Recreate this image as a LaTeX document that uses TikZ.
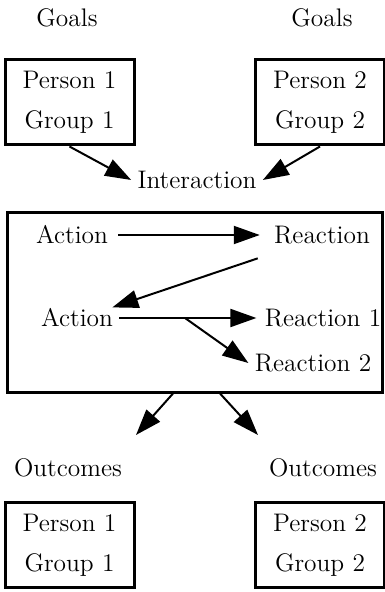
\documentclass[tikz,border=0pt]{standalone}
\usetikzlibrary{arrows.meta,calc}

\begin{document}
\begin{tikzpicture}[x=0.5pt,y=-0.5pt,
every node/.style={font=\fontsize{12.7}{20}\selectfont,inner sep=3pt},
box/.style={draw,line width=1.5pt,minimum width=64.5pt,minimum height=42.5pt,align=center},
arr/.style={line width=1pt,-{Triangle[length=13pt,width=9pt]}}]
\useasboundingbox (0,0) rectangle (384,592);

%goals and the two parties
\node(g1) at (67,18) {Goals};
\node(g2) at (322,18) {Goals};
\node[box](p1) at (69.5,102.5) {Person 1\\Group 1};
\node[box](p2) at (320,102.5) {Person 2\\Group 2};
\node(inter) at (197,180) {Interaction};
\draw[arr] (p1.south) -- (inter.west);
\draw[arr] (p2.south) -- (inter.east);

%the interaction itself
\node[draw,line width=1.5pt,minimum width=187.5pt,minimum height=89.5pt](inbox) at (194.5,302.5) {};
\node(act1) at (72,235) {Action};
\node(rea) at (322,235) {Reaction};
\node(act2) at (77,318) {Action};
\node(rea1) at (323,318) {Reaction 1};
\node(rea2) at (313,363) {Reaction 2};
\draw[arr,shorten <=2pt,shorten >=4pt] (act1.east) -- (rea.west);
\draw[arr] ([xshift=-5pt,yshift=-4pt]rea.south west) -- ([xshift=-3.5pt,yshift=-2.5pt]act2.north east);
\draw[arr,shorten >=1pt] (act2.east) -- (rea1.west);
\coordinate(split) at (185,318);
\draw[arr] (split) -- (rea2.west);

%outcomes
\coordinate(o1) at (136,435);
\coordinate(o2) at (258,435);
\draw[arr] ($(inbox.south)+(-21.5,0)$) -- (o1);
\draw[arr] ($(inbox.south)+(25.5,0)$) -- (o2);
\node(oc1) at (68,468) {Outcomes};
\node(oc2) at (323,468) {Outcomes};
\node[box](q1) at (69.5,545) {Person 1\\Group 1};
\node[box](q2) at (320,545) {Person 2\\Group 2};
\end{tikzpicture}
\end{document}
